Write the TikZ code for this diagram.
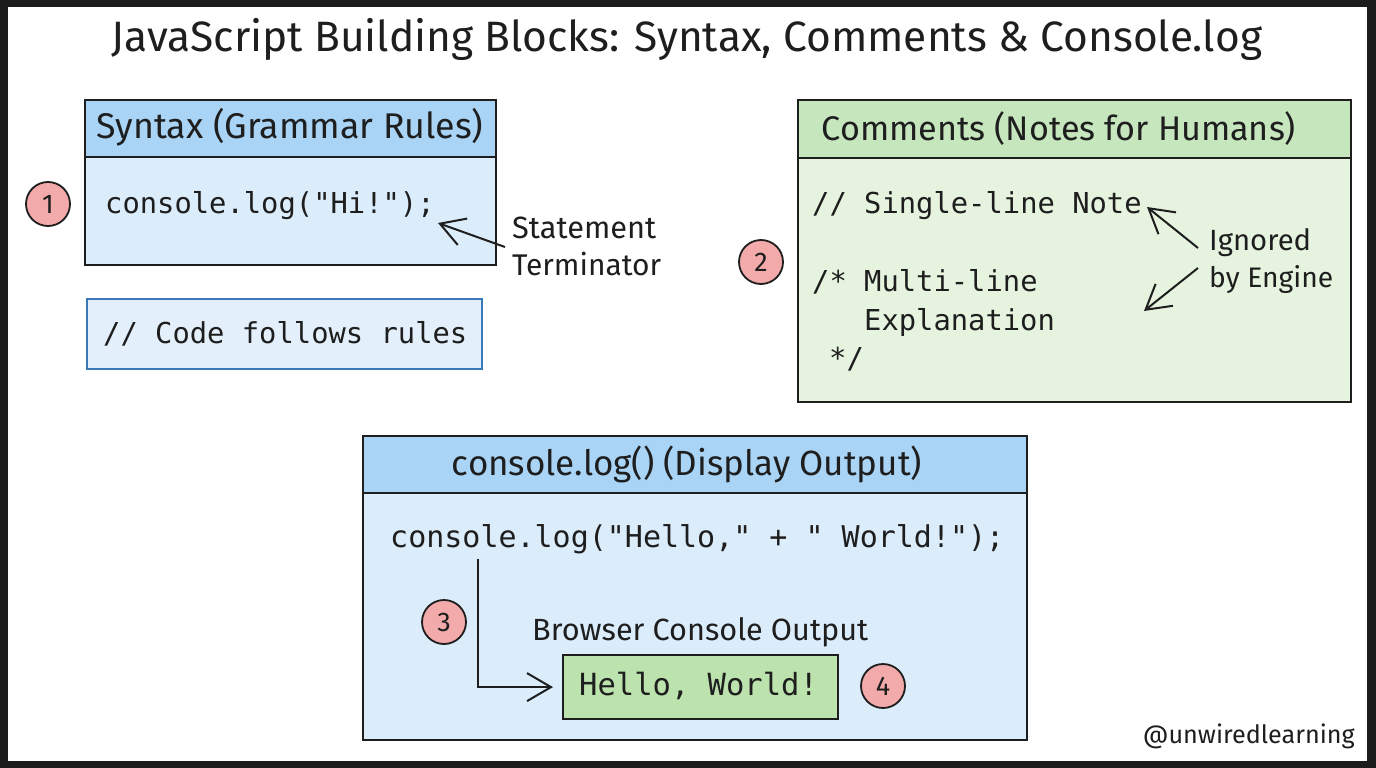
\documentclass[tikz,border=0pt]{standalone}
\usepackage{fontspec}
\setmainfont{Fira Sans}
\newfontfamily\codefont{DejaVu Sans Mono}
\usetikzlibrary{arrows.meta}
\definecolor{ink}{HTML}{1E1E1E}
\definecolor{framedark}{HTML}{1C1C1C}
\definecolor{bluehead}{HTML}{A9D4F6}
\definecolor{bluebody}{HTML}{DBECFB}
\definecolor{bluenote}{HTML}{E3F0FB}
\definecolor{bluestroke}{HTML}{3A78B8}
\definecolor{greenhead}{HTML}{C6E7BD}
\definecolor{greenbody}{HTML}{E5F3DF}
\definecolor{greenout}{HTML}{BCE2AD}
\definecolor{pinkc}{HTML}{F3AAAB}
\newcommand{\hw}[2]{\resizebox{#1pt}{!}{\fontsize{20}{24}\selectfont #2}}
\tikzset{
  boxline/.style={draw=ink, line width=2.2pt, anchor=north west, inner sep=0pt},
  code/.style={font=\codefont\fontsize{28.8}{34}\selectfont, inner sep=0pt, anchor=base west, text=ink},
  bigcode/.style={font=\codefont\fontsize{30}{36}\selectfont, inner sep=0pt, anchor=base west, text=ink},
  label/.style={inner sep=0pt, text=ink},
  num/.style={circle, draw=ink, line width=1.8pt, fill=pinkc, minimum size=44pt, inner sep=0pt, font=\fontsize{27}{27}\selectfont, text=ink},
  arr/.style={draw=ink, line width=2pt, -{Straight Barb[length=24pt,width=28pt,line width=2pt]}}
}
\begin{document}
\begin{tikzpicture}[x=1pt,y=-1pt]
\fill[framedark] (0,0) rectangle (1376,768);
\fill[white] (8,7) rectangle (1367,761);
\useasboundingbox (0,0) rectangle (1376,768);

% title
\node[label, anchor=base] (title) at (687,52) {\hw{1150}{JavaScript Building Blocks: Syntax, Comments \& Console.log}};

% ---------- Syntax box ----------
\node[boxline, fill=bluebody, minimum width=411pt, minimum height=165pt] (synbox) at (84,99) {};
\node[boxline, fill=bluehead, minimum width=411pt, minimum height=57pt] (synhead) at (84,99) {};
\node[label, anchor=base] (syntitle) at (290,138) {\hw{387}{Syntax (Grammar Rules)}};
\node[code] (syncode) at (105,213) {console.log("Hi!");};
\node[num] (n1) at (48,204) {1};
\node[label, anchor=base west] (stmt) at (512,238) {\hw{144}{Statement}};
\node[label, anchor=base west] (term) at (512,275) {\hw{149}{Terminator}};
\coordinate (stmttail) at (505,247);
\coordinate (semi) at (438,223);
\draw[arr] (stmttail) -- (semi);

% note box
\node[draw=bluestroke, line width=2pt, fill=bluenote, anchor=north west, inner sep=0pt, minimum width=395pt, minimum height=70pt] (rules) at (86,298) {};
\node[code] (rulestext) at (103,343) {// Code follows rules};

% ---------- Comments box ----------
\node[boxline, fill=greenbody, minimum width=553pt, minimum height=302pt] (combox) at (797,99) {};
\node[boxline, fill=greenhead, minimum width=553pt, minimum height=58pt] (comhead) at (797,99) {};
\node[label, anchor=base] (comtitle) at (1059,140) {\hw{474}{Comments (Notes for Humans)}};
\node[code] (single) at (812,213) {// Single-line Note};
\node[code] (multi) at (812,291) {/* Multi-line};
\node[code] (expl) at (864,330) {Explanation};
\node[code] (close) at (829,368) {*/};
\node[num] (n2) at (761,262) {2};
\node[label, anchor=base west] (ign) at (1209,250) {\hw{102}{Ignored}};
\node[label, anchor=base west] (eng) at (1209,287) {\hw{124}{by Engine}};
\coordinate (igntail1) at (1198,248);
\coordinate (igntip1) at (1147,207);
\coordinate (igntail2) at (1198,268);
\coordinate (igntip2) at (1144,311);
\draw[arr] (igntail1) -- (igntip1);
\draw[arr] (igntail2) -- (igntip2);

% ---------- console.log box ----------
\node[boxline, fill=bluebody, minimum width=664pt, minimum height=304pt] (conbox) at (362,435) {};
\node[boxline, fill=bluehead, minimum width=664pt, minimum height=57pt] (conhead) at (362,435) {};
\node[label, anchor=base] (contitle) at (687,475) {\hw{470}{console.log() (Display Output)}};
\node[bigcode] (concode) at (390,547) {console.log("Hello," + " World!");};
\node[num] (n3) at (444,622) {3};
\node[label, anchor=base west] (browser) at (532,640) {\hw{336}{Browser Console Output}};
\node[draw=ink, line width=2.2pt, fill=greenout, anchor=north west, inner sep=0pt, minimum width=275pt, minimum height=64pt] (hello) at (562,654) {};
\node[font=\codefont\fontsize{30.5}{36}\selectfont, inner sep=0pt, anchor=base west, text=ink] (hellotext) at (579,695) {Hello, World!};
\node[num] (n4) at (883,686) {4};
\coordinate (outstart) at (478,559);
\draw[arr] (outstart) |- ([xshift=-9pt]hello.west);

% watermark
\node[label, anchor=base east] (wm) at (1355,743) {\hw{212}{@unwiredlearning}};
\end{tikzpicture}
\end{document}
